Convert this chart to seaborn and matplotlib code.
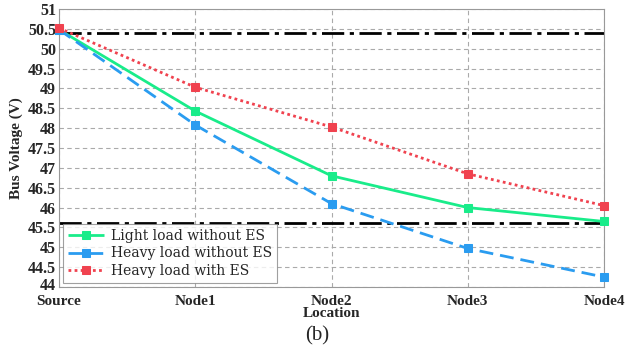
import matplotlib
matplotlib.use("Agg")
import matplotlib.pyplot as plt
import matplotlib.transforms as mtransforms
import seaborn as sns
import pandas as pd

locations = ["Source", "Node1", "Node2", "Node3", "Node4"]
light_no_es = [50.48, 48.43, 46.80, 46.00, 45.65]
heavy_no_es = [50.48, 48.08, 46.10, 44.97, 44.25]
heavy_with_es = [50.52, 49.03, 48.03, 46.85, 46.05]
series_names = ["Light load without ES", "Heavy load without ES", "Heavy load with ES"]
upper_limit = 50.4
lower_limit = 45.6
yticks = [44, 44.5, 45, 45.5, 46, 46.5, 47, 47.5, 48, 48.5, 49, 49.5, 50, 50.5, 51]

sns.set_theme(style="white")
plt.rcParams['font.family'] = ['Liberation Serif', 'DejaVu Serif']

fig = plt.figure(figsize=(6.26, 3.47), dpi=100)
ax = fig.add_axes([59/626, 1-287/347, (604-59)/626, (287-9)/347])

df = pd.DataFrame({
    "loc": list(range(len(locations))) * 3,
    "v": light_no_es + heavy_no_es + heavy_with_es,
    "series": sum([[s]*len(locations) for s in series_names], []),
})
colors = ["#19ec8a", "#2a9cf0", "#f0424f"]
styles = [(0, ()), (0, (5, 2.5)), (0, (1, 1.2))]

ax.axhline(upper_limit, color="black", lw=2, ls=(0, (8, 2, 1.5, 2)), zorder=2)
ax.axhline(lower_limit, color="black", lw=2, ls=(0, (8, 2, 1.5, 2)), zorder=2)

for name, c, st in zip(series_names, colors, styles):
    sub = df[df.series == name]
    sns.lineplot(data=sub, x="loc", y="v", ax=ax, color=c, lw=2, linestyle=st,
                 marker="s", markersize=6, markerfacecolor=c, markeredgecolor=c,
                 label=name, zorder=3, clip_on=False)

ax.set_xlim(0, 4)
ax.set_ylim(44, 51)
ax.set_xticks(range(len(locations)))
ax.set_xticklabels(locations, fontweight="bold", fontsize=11)
ax.set_yticks(yticks)
ax.set_yticklabels([f"{t:g}" for t in yticks], fontweight="bold", fontsize=11.5)
ax.tick_params(axis="both", length=0)
ax.tick_params(axis="x", pad=6)
ax.tick_params(axis="y", pad=2)
# nudge the lowest y label up slightly so it clears "Source"
lbl = ax.get_yticklabels()[0]
lbl.set_transform(lbl.get_transform() + mtransforms.ScaledTranslation(0, 3/100, fig.dpi_scale_trans))
ax.grid(True, color="#aaaaaa", ls=(0, (4, 3)), lw=0.8)
for s in ax.spines.values():
    s.set_color("#999999")
    s.set_linewidth(0.8)
ax.set_xlabel("Location", fontweight="bold", fontsize=11, labelpad=-1)
ax.set_ylabel("Bus Voltage (V)", fontweight="bold", fontsize=11, labelpad=4)

leg = ax.legend(loc="lower left", frameon=True, fancybox=False,
                edgecolor="#888888", borderpad=0.35, labelspacing=0.25,
                handlelength=2.6, handletextpad=0.5, borderaxespad=0.3,
                prop={"family": "DejaVu Serif", "size": 10})
leg.get_frame().set_linewidth(0.8)

fig.text(317/626, 1-336/347, "(b)", ha="center", va="center", fontsize=15)

fig.savefig("out.png", dpi=100)
